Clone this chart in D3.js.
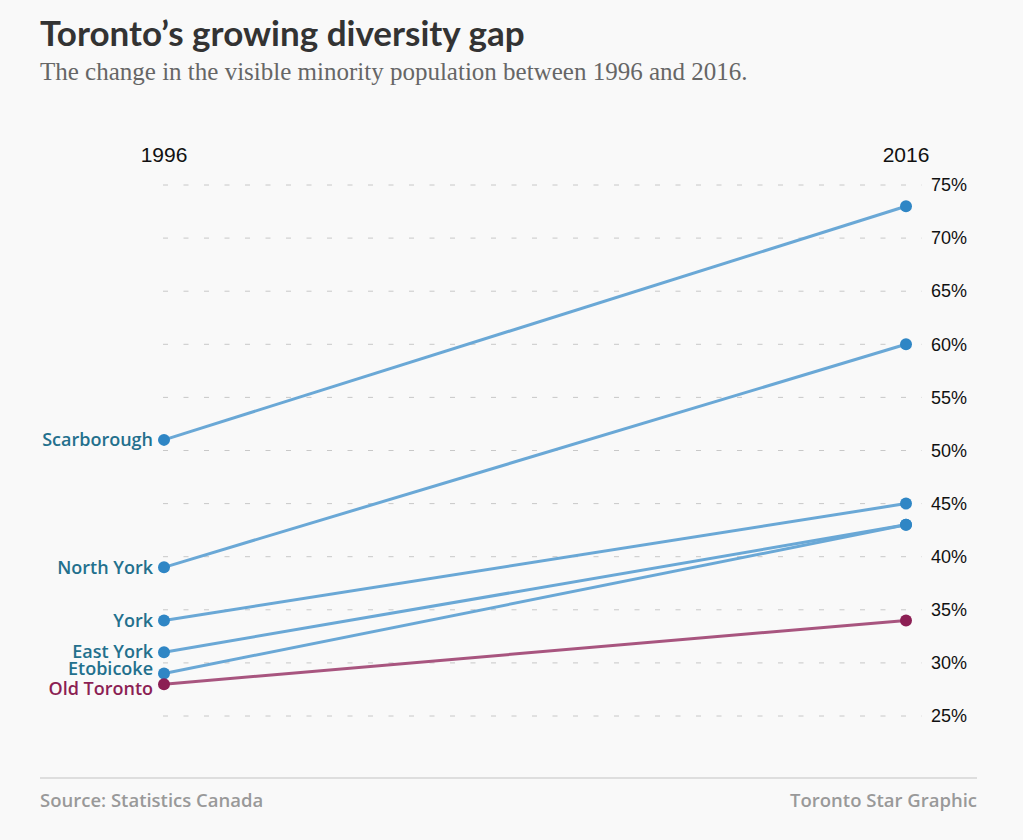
<!DOCTYPE html>
<html>
<head>
<meta charset="utf-8">
<script src="https://cdn.jsdelivr.net/npm/d3@7"></script>
<style>
  body { margin: 0; background: #f9f9f9; }
</style>
</head>
<body>
<div id="chart"></div>
<script>
// Data
var districts = ['Scarborough', 'North York', 'York', 'East York', 'Etobicoke', 'Old Toronto'];
var values1996 = [51, 39, 34, 31, 29, 28];
var values2016 = [73, 60, 45, 43, 43, 34];
var years = ['1996', '2016'];
var yTicks = [25, 30, 35, 40, 45, 50, 55, 60, 65, 70, 75];
// small vertical nudges so the crowded labels don't collide
var labelNudge = [0, 0, 0, -1, -5, 5];

var width = 1023, height = 840;
var svg = d3.select('#chart').append('svg')
  .attr('width', width)
  .attr('height', height)
  .style('background', '#f9f9f9');

// Scales
var x = d3.scalePoint().domain(years).range([164, 906]);
var y = d3.scaleLinear().domain([25, 75]).range([716, 185]);

// Title and subtitle
svg.append('text')
  .attr('x', 40).attr('y', 46)
  .style('font-family', 'Lato, "Open Sans", sans-serif')
  .style('font-weight', 'bold')
  .style('font-size', '35px')
  .style('fill', '#333')
  .text('Toronto\u2019s growing diversity gap');

svg.append('text')
  .attr('x', 40).attr('y', 80)
  .style('font-family', '"Liberation Serif", "Times New Roman", serif')
  .style('font-size', '25px')
  .style('fill', '#666')
  .text('The change in the visible minority population between 1996 and 2016.');

// Dashed gridlines
svg.append('g').selectAll('line')
  .data(yTicks)
  .enter()
  .append('line')
  .attr('x1', 163).attr('x2', 922)
  .attr('y1', function(d) { return y(d); })
  .attr('y2', function(d) { return y(d); })
  .style('stroke', '#c8c8c8')
  .style('stroke-width', 1)
  .style('stroke-dasharray', '5,15.5');

// Right axis
var axis = svg.append('g')
  .attr('transform', 'translate(922,0)')
  .call(d3.axisRight(y).tickValues(yTicks).tickSize(0).tickPadding(9)
    .tickFormat(function(d) { return d + '%'; }));
axis.select('.domain').remove();
axis.selectAll('text')
  .style('font-family', '"Liberation Sans", Arial, sans-serif')
  .style('font-size', '18px')
  .style('fill', '#111');

// Year labels
svg.selectAll('.year')
  .data(years)
  .enter()
  .append('text')
  .attr('x', function(d) { return x(d); })
  .attr('y', 162)
  .attr('text-anchor', 'middle')
  .style('font-family', '"Liberation Sans", Arial, sans-serif')
  .style('font-size', '21px')
  .style('fill', '#111')
  .text(function(d) { return d; });

function lineColor(i) { return districts[i] === 'Old Toronto' ? '#a8557f' : '#6aa8d6'; }
function dotColor(i) { return districts[i] === 'Old Toronto' ? '#8c1f54' : '#2f86c5'; }
function labelColor(i) { return districts[i] === 'Old Toronto' ? '#8c1f54' : '#23708d'; }

var idx = d3.range(districts.length);

// Slope lines
svg.append('g').selectAll('line')
  .data(idx)
  .enter()
  .append('line')
  .attr('x1', x('1996'))
  .attr('x2', x('2016'))
  .attr('y1', function(i) { return y(values1996[i]); })
  .attr('y2', function(i) { return y(values2016[i]); })
  .style('stroke', function(i) { return lineColor(i); })
  .style('stroke-width', 3);

// Dots
var dots = svg.append('g');
years.forEach(function(yr) {
  var vals = yr === '1996' ? values1996 : values2016;
  dots.selectAll('.dot' + yr)
    .data(idx)
    .enter()
    .append('circle')
    .attr('cx', x(yr))
    .attr('cy', function(i) { return y(vals[i]); })
    .attr('r', 6)
    .style('fill', function(i) { return dotColor(i); });
});

// District labels
svg.append('g').selectAll('text')
  .data(idx)
  .enter()
  .append('text')
  .attr('x', 153)
  .attr('y', function(i) { return y(values1996[i]) + labelNudge[i]; })
  .attr('dy', '0.35em')
  .attr('text-anchor', 'end')
  .style('font-family', '"Open Sans", Lato, sans-serif')
  .style('font-weight', 600)
  .style('font-size', '18px')
  .style('fill', function(i) { return labelColor(i); })
  .text(function(i) { return districts[i]; });

// Footer
svg.append('line')
  .attr('x1', 40).attr('x2', 977)
  .attr('y1', 778).attr('y2', 778)
  .style('stroke', '#d4d4d4')
  .style('stroke-width', 1.5);

svg.append('text')
  .attr('x', 40).attr('y', 807)
  .style('font-family', '"Open Sans", Lato, sans-serif')
  .style('font-weight', 600)
  .style('font-size', '18.5px')
  .style('fill', '#999')
  .text('Source: Statistics Canada');

svg.append('text')
  .attr('x', 977).attr('y', 807)
  .attr('text-anchor', 'end')
  .style('font-family', '"Open Sans", Lato, sans-serif')
  .style('font-weight', 600)
  .style('font-size', '18.5px')
  .style('fill', '#999')
  .text('Toronto Star Graphic');
</script>
</body>
</html>
